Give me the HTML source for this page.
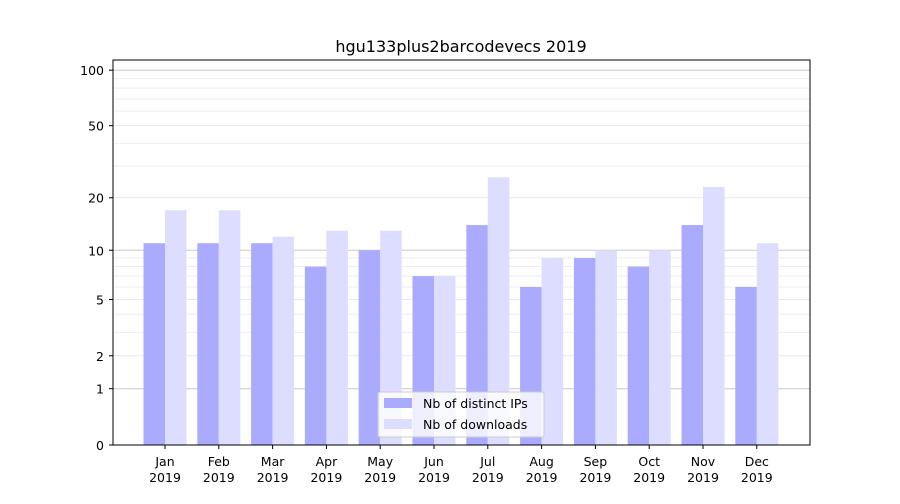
<!DOCTYPE html>
<html><head><meta charset="utf-8"><style>
body{margin:0;background:#fff;font-family:"DejaVu Sans","Liberation Sans",sans-serif;}
</style></head><body>
<svg id="chart" width="900" height="500" viewBox="0 0 900 500" xmlns="http://www.w3.org/2000/svg" font-family="DejaVu Sans, Liberation Sans, sans-serif">
<rect width="900" height="500" fill="#fff"/>
<text x="461" y="52" text-anchor="middle" font-size="16" fill="#000">hgu133plus2barcodevecs 2019</text>
<g id="grid"></g>
<g id="bars"></g>
<rect x="113" y="60" width="697" height="385" fill="none" stroke="#000" stroke-width="1"/>
<g id="yaxis"></g>
<g id="xaxis"></g>
<g>
<rect x="378" y="392" width="166" height="45" fill="#fff" fill-opacity="0.8" stroke="#ccc" rx="2"/>
<rect x="384" y="398" width="28" height="10" fill="#aaaaff"/>
<text x="423" y="408" font-size="12.5">Nb of distinct IPs</text>
<rect x="384" y="419" width="28" height="10" fill="#ddddff"/>
<text x="423" y="429" font-size="12.5">Nb of downloads</text>
</g>
</svg>
<script>
const months=["Jan","Feb","Mar","Apr","May","Jun","Jul","Aug","Sep","Oct","Nov","Dec"];
const ips=[11,11,11,8,10,7,14,6,9,8,14,6];
const downloads=[17,17,12,13,13,7,26,9,10,10,23,11];
const yTicks=[0,1,2,5,10,20,50,100];
const minorTicks=[3,4,6,7,8,9,30,40,60,70,80,90];
const NS="http://www.w3.org/2000/svg";
function y(v){return 445-187*Math.log10(1+v);}
function xc(i){return 165+i*53.8;}
function mk(tag,attrs,parent){const e=document.createElementNS(NS,tag);for(const k in attrs)e.setAttribute(k,attrs[k]);parent.appendChild(e);return e;}
const grid=document.getElementById('grid'),bars=document.getElementById('bars'),ya=document.getElementById('yaxis'),xa=document.getElementById('xaxis');
minorTicks.forEach(v=>{const l=mk('line',{x1:113,x2:810,y1:y(v),y2:y(v),stroke:'#eeeeee','stroke-width':1},grid);

});
yTicks.forEach(v=>{const major=(v===1||v===10||v===100);
const l=mk('line',{x1:113,x2:810,y1:y(v),y2:y(v),stroke:major?'#c8c8c8':'#e8e8e8','stroke-width':1},grid);


mk('line',{x1:109,x2:113,y1:y(v),y2:y(v),stroke:'#000'},ya);
const t=mk('text',{x:104,y:y(v)+5,'text-anchor':'end','font-size':12.5},ya);t.textContent=v;

});
months.forEach((m,i)=>{const c=xc(i);
const b1=mk('rect',{x:c-21.5,y:y(ips[i]),width:21.5,height:445-y(ips[i]),fill:'#aaaaff'},bars);


const b2=mk('rect',{x:c,y:y(downloads[i]),width:21.5,height:445-y(downloads[i]),fill:'#ddddff'},bars);


mk('line',{x1:c,x2:c,y1:445,y2:449,stroke:'#000'},xa);
const t=mk('text',{x:c,y:466,'text-anchor':'middle','font-size':12.5},xa);t.textContent=m;


const t2=mk('text',{x:c,y:482,'text-anchor':'middle','font-size':12.5},xa);t2.textContent='2019';

});
</script>
</body></html>
